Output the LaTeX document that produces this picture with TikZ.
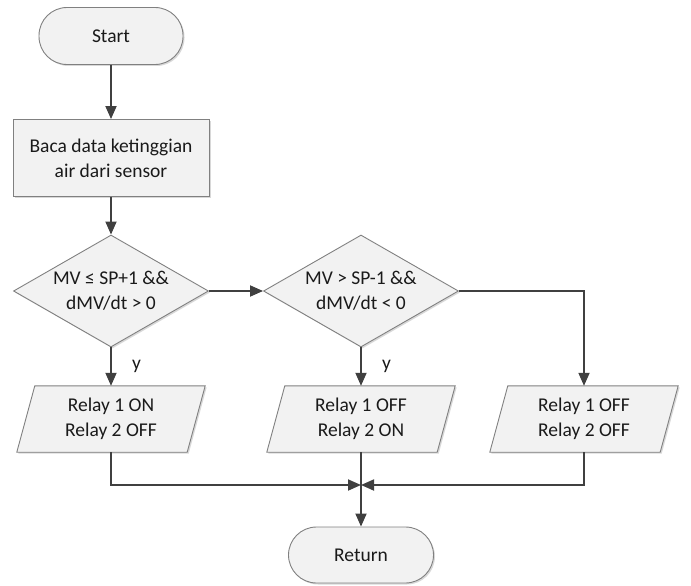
\documentclass[tikz,border=0pt]{standalone}
\usepackage{fontspec}
\setmainfont{Carlito}
\usetikzlibrary{arrows.meta,shapes.geometric,shadows,calc}
\definecolor{shapefill}{RGB}{242,242,242}
\definecolor{shapeline}{RGB}{128,128,128}
\definecolor{arrowcol}{RGB}{64,64,64}
\definecolor{txtcol}{RGB}{26,26,26}
\tikzset{
  base/.style={draw=shapeline, fill=shapefill, line width=0.9pt, inner sep=0pt,
    drop shadow={shadow xshift=1.5pt, shadow yshift=-1.5pt, fill=black!30, opacity=0.5}},
  term/.style={base, rectangle, rounded corners=28pt, minimum width=144pt, minimum height=57pt},
  procbox/.style={base, rectangle, minimum width=196pt, minimum height=77pt},
  dec/.style={base, diamond, minimum width=195pt, minimum height=112pt},
  iobox/.style={rectangle, inner sep=0pt, minimum width=170pt, minimum height=66pt},
  txt/.style={align=center, text=txtcol, font=\fontsize{19.5}{25}\selectfont},
  conn/.style={draw=arrowcol, line width=1.8pt, -{Triangle[width=11pt,length=13pt]}},
  lab/.style={text=txtcol, font=\fontsize{19.5}{25}\selectfont}
}
\begin{document}
\begin{tikzpicture}[x=1pt,y=-1pt]
\useasboundingbox (0,0) rectangle (691,586);
\node[term] (start) at (111,36) {};
\node[txt] at (start) {Start};
\node[procbox] (proc) at (111,158) {};
\node[txt] at (proc) {Baca data ketinggian\\air dari sensor};
\node[dec] (d1) at (111,291) {};
\node[txt] at (d1) {MV ≤ SP+1 \&\&\\dMV/dt > 0};
\node[dec] (d2) at (361,291) {};
\node[txt] at (d2) {MV > SP-1 \&\&\\dMV/dt < 0};
\foreach \n/\x/\a/\b in {r1/111/Relay 1 ON/Relay 2 OFF, r2/361/Relay 1 OFF/Relay 2 ON, r3/584/Relay 1 OFF/Relay 2 OFF}{
  \node[iobox] (\n) at (\x,419) {};
  \path[base] ($(\n.north west)+(9,0)$) -- ($(\n.north east)+(9,0)$) -- ($(\n.south east)+(-9,0)$) -- ($(\n.south west)+(-9,0)$) -- cycle;
  \node[txt] at (\n) {\a\\\b};
}
\node[term, minimum width=145pt, minimum height=56pt] (ret) at (361,555) {};
\node[txt] at (ret) {Return};
\coordinate (m) at (361,485);
\draw[conn] (start) -- (proc);
\draw[conn] (proc) -- (d1);
\draw[conn] (d1.east) -- (d2.west);
\draw[conn] (d2.east) -| (r3.north);
\draw[conn] (d1.south) -- node[lab, right=17pt, pos=0.5] {y} (r1.north);
\draw[conn] (d2.south) -- node[lab, right=17pt, pos=0.5] {y} (r2.north);
\draw[conn] (r1.south) |- (m);
\draw[conn] (r3.south) |- (m);
\draw[conn] (r2.south) -- (ret.north);
\end{tikzpicture}
\end{document}
